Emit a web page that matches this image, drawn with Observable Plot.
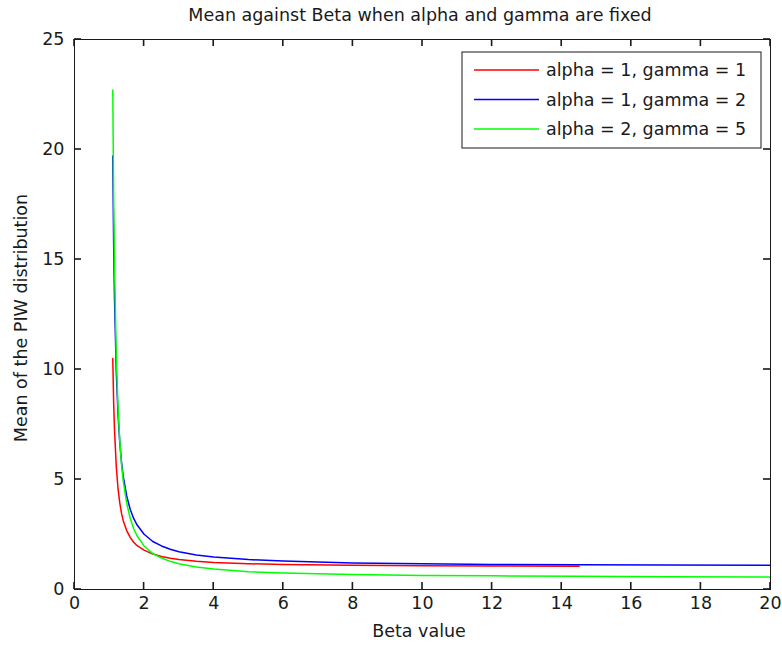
<!DOCTYPE html>
<html>
<head>
<meta charset="utf-8">
<script src="https://cdn.jsdelivr.net/npm/d3@7"></script>
<script src="https://cdn.jsdelivr.net/npm/@observablehq/plot@0.6"></script>
<style>
  html, body { margin: 0; padding: 0; background: #fff; }
</style>
</head>
<body>
<div id="chart"></div>
<script>
// ---- data ----
const titleText = "Mean against Beta when alpha and gamma are fixed";
const xLabel = "Beta value";
const yLabel = "Mean of the PIW distribution";

const seriesNames = ["alpha = 1, gamma = 1", "alpha = 1, gamma = 2", "alpha = 2, gamma = 5"];
const seriesColors = ["#ff0000", "#0000ff", "#00ff00"];

const beta = [1.1, 1.125, 1.15, 1.2, 1.25, 1.3, 1.35, 1.4, 1.5, 1.6, 1.7, 1.8, 2, 2.25, 2.5, 2.75, 3, 3.5, 4, 5, 6, 8, 10, 12, 14.5, 17, 20];

// red curve stops at beta = 14.5
const meanA1G1 = [10.5, 8.5, 7.25, 5.6, 4.6, 3.95, 3.47, 3.13, 2.68, 2.37, 2.15, 1.99, 1.79, 1.61, 1.5, 1.42, 1.36, 1.28, 1.23, 1.17, 1.14, 1.1, 1.08, 1.07, 1.06];
const meanA1G2 = [19.7, 15.7, 13.2, 9.93, 7.99, 6.71, 5.8, 5.14, 4.25, 3.65, 3.23, 2.93, 2.51, 2.18, 1.98, 1.83, 1.72, 1.57, 1.48, 1.36, 1.29, 1.21, 1.17, 1.14, 1.12, 1.11, 1.1];
const meanA2G5 = [22.7, 17.8, 14.7, 10.65, 8.32, 6.79, 5.71, 4.94, 3.92, 3.24, 2.77, 2.43, 1.98, 1.63, 1.43, 1.28, 1.17, 1.02, 0.93, 0.81, 0.75, 0.68, 0.64, 0.62, 0.6, 0.58, 0.57];

const xTicks = [0, 2, 4, 6, 8, 10, 12, 14, 16, 18, 20];
const yTicks = [0, 5, 10, 15, 20, 25];

// ---- build table ----
const seriesValues = [meanA1G1, meanA1G2, meanA2G5];
const rows = [];
seriesValues.forEach((vals, s) => {
  vals.forEach((v, i) => rows.push({series: seriesNames[s], beta: beta[i], mean: v}));
});

const W = 782, H = 648;
const mL = 74, mR = 12, mT = 39, mB = 59;
const plotW = W - mL - mR, plotH = H - mT - mB;
const ink = "#1a1a1a";
const font = "'DejaVu Sans', sans-serif";

const chart = Plot.plot({
  width: W,
  height: H,
  marginLeft: mL,
  marginRight: mR,
  marginTop: mT,
  marginBottom: mB,
  style: {fontFamily: font, fontSize: "17.5px", background: "white", color: ink},
  x: {domain: [0, 20]},
  y: {domain: [0, 25]},
  color: {domain: seriesNames, range: seriesColors},
  marks: [
    Plot.line(rows, {x: "beta", y: "mean", z: "series", stroke: "series", strokeWidth: 1.5, clip: true}),
    Plot.axisX({anchor: "bottom", ticks: xTicks, tickSize: 0, tickPadding: 7, tickFormat: d => String(d), label: null}),
    Plot.axisY({anchor: "left", ticks: yTicks, tickSize: 0, tickPadding: 10, tickFormat: d => String(d), label: null}),
    Plot.frame({stroke: ink, strokeWidth: 1})
  ]
});

const svg = d3.select(chart);
const xs = chart.scale("x"), ys = chart.scale("y");
const cx = mL + plotW / 2;

svg.append("text")
  .attr("x", cx - 2).attr("y", 21)
  .attr("text-anchor", "middle")
  .attr("fill", ink)
  .style("font-family", font).style("font-size", "17.5px")
  .text(titleText);

svg.append("text")
  .attr("x", cx - 3).attr("y", 637)
  .attr("text-anchor", "middle")
  .attr("fill", ink)
  .style("font-family", font).style("font-size", "17.5px")
  .text(xLabel);

svg.append("text")
  .attr("transform", `translate(27,${mT + plotH / 2 + 4}) rotate(-90)`)
  .attr("text-anchor", "middle")
  .attr("fill", ink)
  .style("font-family", font).style("font-size", "17.5px")
  .text(yLabel);

// legend
const lg = svg.append("g").attr("transform", "translate(462,52)");
lg.append("rect").attr("x", 0).attr("y", 0).attr("width", 299).attr("height", 96)
  .attr("fill", "white").attr("stroke", ink).attr("stroke-width", 1);
seriesNames.forEach((name, i) => {
  const yy = 18 + i * 29.5;
  lg.append("line").attr("x1", 12).attr("x2", 77).attr("y1", yy).attr("y2", yy)
    .attr("stroke", seriesColors[i]).attr("stroke-width", 1.5);
  lg.append("text").attr("x", 84).attr("y", yy + 6)
    .attr("text-anchor", "start")
    .attr("fill", ink)
    .style("font-family", font).style("font-size", "17.5px")
    .text(name);
});

// inward ticks on all four sides (MATLAB box style), placed through the plot's scales
const tg = svg.append("g").attr("fill", ink);
const tl = 7, tw = 1.6;
xTicks.forEach(t => {
  const px = xs.apply(t);
  tg.append("rect").attr("x", px - tw / 2).attr("y", mT + plotH - tl).attr("width", tw).attr("height", tl);
  tg.append("rect").attr("x", px - tw / 2).attr("y", mT).attr("width", tw).attr("height", tl);
});
yTicks.forEach(t => {
  const py = ys.apply(t);
  tg.append("rect").attr("x", mL).attr("y", py - tw / 2).attr("width", tl).attr("height", tw);
  tg.append("rect").attr("x", mL + plotW - tl).attr("y", py - tw / 2).attr("width", tl).attr("height", tw);
});

document.getElementById("chart").appendChild(chart);
</script>
</body>
</html>
